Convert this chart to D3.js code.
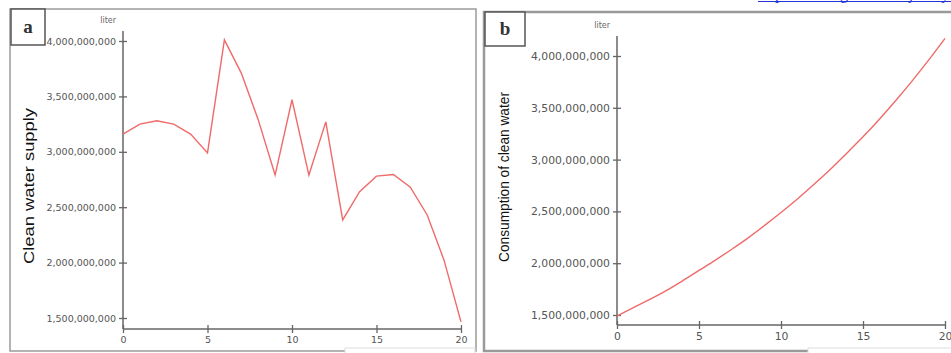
<!DOCTYPE html>
<html>
<head>
<meta charset="UTF-8">
<title>clean water</title>
<script src="https://cdn.jsdelivr.net/npm/d3@7"></script>
<style>
  body { margin: 0; background: #fff; }
  svg { display: block; }
</style>
</head>
<body>
<div id="chart"></div>
<script>
// data (liters)
var years = [0,1,2,3,4,5,6,7,8,9,10,11,12,13,14,15,16,17,18,19,20];
var supply = [3.16e9,3.25e9,3.28e9,3.25e9,3.16e9,2.99e9,4.01e9,3.71e9,3.29e9,2.79e9,3.47e9,
              2.79e9,3.27e9,2.385e9,2.64e9,2.78e9,2.795e9,2.68e9,2.43e9,2.02e9,1.465e9];
var consumption = [1.49e9,1.57e9,1.65e9,1.735e9,1.83e9,1.93e9,2.03e9,2.135e9,2.245e9,2.365e9,2.49e9,
                   2.62e9,2.76e9,2.905e9,3.06e9,3.22e9,3.39e9,3.57e9,3.76e9,3.96e9,4.17e9];
var yTicks = [1.5e9,2e9,2.5e9,3e9,3.5e9,4e9];
var xTicks = [0,5,10,15,20];

var width = 951, height = 353;
var svg = d3.select("#chart").append("svg")
    .attr("width", width).attr("height", height)
    .style("font-family", "'DejaVu Sans', Verdana, sans-serif");

var fmt = d3.format(",");

// link fragment at the very top (cut off in the source picture)
svg.append("text")
    .attr("x", 758).attr("y", -1.5)
    .attr("fill", "#2233dd")
    .style("font-family", "'Liberation Serif', serif")
    .style("font-size", "16px")
    .text("https://doi.org/10.1016/j.heliyon");
svg.append("line")
    .attr("x1", 758).attr("x2", 951).attr("y1", 1.5).attr("y2", 1.5)
    .attr("stroke", "#2233dd").attr("stroke-width", 1.2);

function drawPanel(p) {
    var g = svg.append("g");

    // outer frame
    g.append("rect")
        .attr("x", p.box[0]).attr("y", p.box[1])
        .attr("width", p.box[2]).attr("height", p.box[3])
        .attr("fill", "none").attr("stroke", "#9a9a9a").attr("stroke-width", p.frameW);

    // small panel letter box
    g.append("rect")
        .attr("x", p.box[0] + 1).attr("y", p.box[1])
        .attr("width", p.tag[0]).attr("height", p.tag[1])
        .attr("fill", "#fff").attr("stroke", "#555").attr("stroke-width", 1.5);
    g.append("text")
        .attr("x", p.box[0] + 1 + p.tag[0] / 2).attr("y", p.box[1] + p.tag[1] / 2 + 6)
        .attr("text-anchor", "middle")
        .style("font-family", "'Liberation Serif', 'DejaVu Serif', serif")
        .style("font-weight", "bold")
        .style("font-size", "19px")
        .attr("fill", "#333")
        .text(p.letter);

    // faint box at bottom right
    g.append("rect")
        .attr("x", p.note[0]).attr("y", p.note[1])
        .attr("width", p.note[2]).attr("height", 12)
        .attr("fill", "#fff").attr("stroke", "#ddd");

    var x = d3.scaleLinear().domain([0, 20]).range(p.xr);
    var y = d3.scaleLinear().domain([1.5e9, 4e9]).range(p.yr);

    // axis lines (extend a bit beyond the ticks)
    g.append("line")
        .attr("x1", p.xr[0]).attr("x2", p.xr[0])
        .attr("y1", p.axTop).attr("y2", p.axBottom)
        .attr("stroke", "#666").attr("stroke-width", 1.5);
    g.append("line")
        .attr("x1", p.xr[0]).attr("x2", p.xr[1])
        .attr("y1", p.axBottom).attr("y2", p.axBottom)
        .attr("stroke", "#666").attr("stroke-width", 1.5);

    var yAxis = g.append("g")
        .attr("transform", "translate(" + p.xr[0] + ",0)")
        .call(d3.axisLeft(y).tickValues(yTicks).tickFormat(fmt).tickSize(4).tickPadding(3));
    var xAxis = g.append("g")
        .attr("transform", "translate(0," + p.axBottom + ")")
        .call(d3.axisBottom(x).tickValues(xTicks).tickSize(4).tickPadding(3));

    [yAxis, xAxis].forEach(function (a) {
        a.select(".domain").remove();
        a.selectAll(".tick line").attr("stroke", "#666").attr("stroke-width", 1.3);
        a.selectAll(".tick text")
            .attr("fill", "#555")
            .style("font-family", "'DejaVu Sans', Verdana, sans-serif")
            .style("font-size", p.tickFont + "px");
    });
    yAxis.selectAll(".tick line").attr("x1", 4);
    xAxis.selectAll(".tick line").attr("y1", -4);

    // unit
    g.append("text")
        .attr("x", p.xr[0] - 7).attr("y", p.axTop - 8)
        .attr("text-anchor", "end")
        .attr("fill", "#666")
        .style("font-size", "8px")
        .text("liter");

    // y title
    g.append("text")
        .attr("transform", "translate(" + p.title[0] + "," + p.title[1] + ") rotate(-90)")
        .attr("text-anchor", "middle")
        .style("font-family", "'Liberation Sans', Arial, sans-serif")
        .style("font-size", p.titleFont + "px")
        .attr("fill", "#111")
        .attr("textLength", p.title[2])
        .attr("lengthAdjust", "spacingAndGlyphs")
        .text(p.label);

    var line = d3.line()
        .x(function (d, i) { return x(years[i]); })
        .y(function (d) { return y(d); })
        .curve(p.curve);

    g.append("path")
        .datum(p.values)
        .attr("d", line)
        .attr("fill", "none")
        .attr("stroke", "#f06a6a")
        .attr("stroke-width", 1.4);
}

drawPanel({
    letter: "a",
    box: [10, 9, 466, 342],
    frameW: 1.5,
    tag: [34, 36],
    note: [345, 348, 130],
    xr: [123, 461],
    yr: [318, 41],
    axTop: 31,
    axBottom: 329,
    tickFont: 9.5,
    titleFont: 14,
    title: [34, 186, 156],
    label: "Clean water supply",
    values: supply,
    curve: d3.curveLinear
});

drawPanel({
    letter: "b",
    box: [484, 12, 470, 339],
    frameW: 2.5,
    tag: [40, 34],
    note: [808, 348, 145],
    xr: [617, 945],
    yr: [315, 56],
    axTop: 36,
    axBottom: 325,
    tickFont: 10.8,
    titleFont: 14,
    title: [509, 177, 170],
    label: "Consumption of clean water",
    values: consumption,
    curve: d3.curveMonotoneX
});
</script>
</body>
</html>
